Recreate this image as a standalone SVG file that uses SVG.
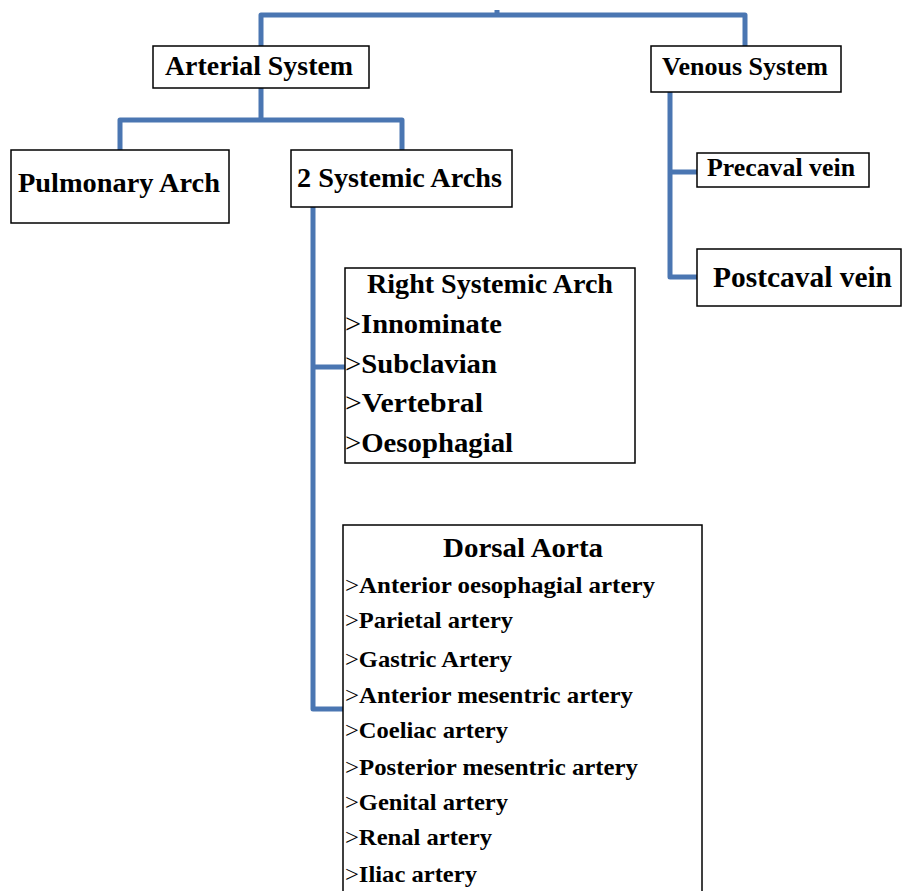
<svg xmlns="http://www.w3.org/2000/svg" width="903" height="891" viewBox="0 0 903 891">
<style>
.box{fill:#fff;stroke:#000;stroke-width:1.5}
.t{font-family:"Liberation Serif","Times New Roman",serif;font-weight:bold;fill:#000}
.g{font-weight:normal}
.c{fill:none;stroke:#4a76b2;stroke-width:5;stroke-linejoin:round;stroke-linecap:butt}
</style>
<rect width="903" height="891" fill="#fff"/>
<g id="connectors">
<path class="c" d="M261 46 V15 H745 V46"/>
<path class="c" d="M497 15 V10"/>
<path class="c" d="M261 88 V120 M120 150 V120 H402 V150"/>
<path class="c" d="M313 207 V709 H343 M313 367 H345"/>
<path class="c" d="M670 92 V277 H697 M670 172 H697"/>
</g>
<g id="arterial">
<rect class="box" x="153" y="46" width="216" height="42"/>
<text class="t" x="165" y="75" font-size="27" textLength="188" lengthAdjust="spacingAndGlyphs">Arterial System</text>
</g>
<g id="venous">
<rect class="box" x="651" y="46" width="190" height="46"/>
<text class="t" x="662" y="75" font-size="26" textLength="166" lengthAdjust="spacingAndGlyphs">Venous System</text>
</g>
<g id="pulmonary">
<rect class="box" x="11" y="150" width="218" height="73"/>
<text class="t" x="18" y="192" font-size="27" textLength="202" lengthAdjust="spacingAndGlyphs">Pulmonary Arch</text>
</g>
<g id="systemic">
<rect class="box" x="291" y="150" width="221" height="57"/>
<text class="t" x="297" y="187" font-size="27" textLength="205" lengthAdjust="spacingAndGlyphs">2 Systemic Archs</text>
</g>
<g id="precaval">
<rect class="box" x="697" y="153" width="172" height="34"/>
<text class="t" x="707" y="176" font-size="25" textLength="148" lengthAdjust="spacingAndGlyphs">Precaval vein</text>
</g>
<g id="postcaval">
<rect class="box" x="697" y="249" width="204" height="57"/>
<text class="t" x="713" y="287" font-size="29" textLength="179" lengthAdjust="spacingAndGlyphs">Postcaval vein</text>
</g>
<g id="right-systemic-arch">
<rect class="box" x="345" y="268" width="290" height="195"/>
<text class="t" x="367" y="293" font-size="27" textLength="246" lengthAdjust="spacingAndGlyphs">Right Systemic Arch</text>
<text class="t" x="345" y="333" font-size="27" textLength="157" lengthAdjust="spacingAndGlyphs"><tspan class="g">&gt;</tspan>Innominate</text>
<text class="t" x="345" y="373" font-size="27" textLength="152" lengthAdjust="spacingAndGlyphs"><tspan class="g">&gt;</tspan>Subclavian</text>
<text class="t" x="345" y="412" font-size="27" textLength="138" lengthAdjust="spacingAndGlyphs"><tspan class="g">&gt;</tspan>Vertebral</text>
<text class="t" x="345" y="452" font-size="27" textLength="168" lengthAdjust="spacingAndGlyphs"><tspan class="g">&gt;</tspan>Oesophagial</text>
</g>
<g id="dorsal-aorta">
<rect class="box" x="343" y="525" width="359" height="380"/>
<text class="t" x="443" y="557" font-size="27" textLength="160" lengthAdjust="spacingAndGlyphs">Dorsal Aorta</text>
<text class="t" x="345" y="593" font-size="23" textLength="310" lengthAdjust="spacingAndGlyphs"><tspan class="g">&gt;</tspan>Anterior oesophagial artery</text>
<text class="t" x="345" y="628" font-size="23" textLength="168" lengthAdjust="spacingAndGlyphs"><tspan class="g">&gt;</tspan>Parietal artery</text>
<text class="t" x="345" y="667" font-size="23" textLength="167" lengthAdjust="spacingAndGlyphs"><tspan class="g">&gt;</tspan>Gastric Artery</text>
<text class="t" x="345" y="703" font-size="23" textLength="288" lengthAdjust="spacingAndGlyphs"><tspan class="g">&gt;</tspan>Anterior mesentric artery</text>
<text class="t" x="345" y="738" font-size="23" textLength="163" lengthAdjust="spacingAndGlyphs"><tspan class="g">&gt;</tspan>Coeliac artery</text>
<text class="t" x="345" y="775" font-size="23" textLength="293" lengthAdjust="spacingAndGlyphs"><tspan class="g">&gt;</tspan>Posterior mesentric artery</text>
<text class="t" x="345" y="810" font-size="23" textLength="163" lengthAdjust="spacingAndGlyphs"><tspan class="g">&gt;</tspan>Genital artery</text>
<text class="t" x="345" y="845" font-size="23" textLength="147" lengthAdjust="spacingAndGlyphs"><tspan class="g">&gt;</tspan>Renal artery</text>
<text class="t" x="345" y="882" font-size="23" textLength="132" lengthAdjust="spacingAndGlyphs"><tspan class="g">&gt;</tspan>Iliac artery</text>
</g>
</svg>
